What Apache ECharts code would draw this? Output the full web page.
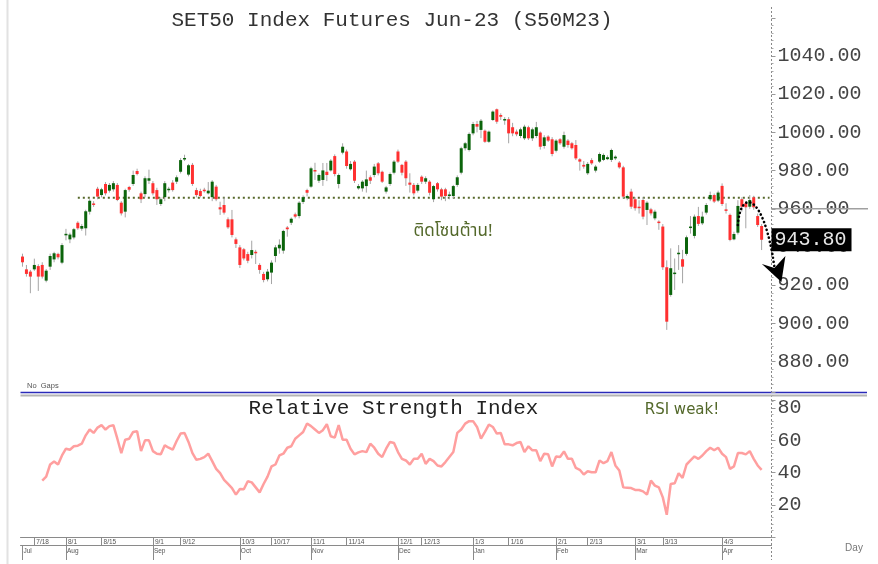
<!DOCTYPE html>
<html><head><meta charset="utf-8">
<script src="https://cdn.jsdelivr.net/npm/echarts@6/dist/echarts.min.js"></script>
<style>html,body{margin:0;padding:0;background:#fff}#c{width:878px;height:564px}</style>
</head><body><div id="c"></div>
<script>
// ---------- DATA ----------
const dates = ['7/8','7/11','7/12','7/18','7/19','7/20','7/21','7/22','7/25','7/26','7/27',
'8/1','8/2','8/3','8/4','8/5','8/8','8/9','8/10','8/11','8/15','8/16','8/17','8/18','8/19','8/22','8/23','8/24','8/25','8/26','8/29','8/30','8/31',
'9/1','9/2','9/5','9/6','9/7','9/8','9/9','9/12','9/13','9/14','9/15','9/16','9/19','9/20','9/21','9/22','9/23','9/26','9/27','9/28','9/29','9/30',
'10/3','10/4','10/5','10/6','10/7','10/10','10/11','10/12','10/17','10/18','10/19','10/20','10/21','10/25','10/26','10/27','10/28','10/31',
'11/1','11/2','11/3','11/4','11/7','11/8','11/9','11/10','11/11','11/14','11/15','11/16','11/17','11/18','11/21','11/22','11/23','11/24','11/25','11/28','11/29','11/30',
'12/1','12/2','12/6','12/7','12/8','12/9','12/13','12/14','12/15','12/16','12/19','12/20','12/21','12/22','12/23','12/26','12/27','12/28','12/29',
'1/3','1/4','1/5','1/6','1/9','1/10','1/11','1/12','1/13','1/16','1/17','1/18','1/19','1/20','1/23','1/24','1/25','1/26','1/27','1/30','1/31',
'2/1','2/2','2/3','2/6','2/7','2/8','2/9','2/10','2/13','2/14','2/15','2/16','2/17','2/20','2/21','2/22','2/23','2/24','2/27','2/28',
'3/1','3/2','3/3','3/7','3/8','3/9','3/10','3/13','3/14','3/15','3/16','3/17','3/20','3/21','3/22','3/23','3/24','3/27','3/28','3/29','3/30','3/31',
'4/3','4/4','4/5','4/7','4/10','4/11','4/12','4/18','4/19','4/20','4/21'];
const padCategories = ['', ' '];

const openP = [935,928.3,927.1,928.3,930,930.6,922.4,929.7,933.5,936.4,931.8,946.6,944,945,952.7,949.6,949.8,958.5,962.8,970.5,
967.2,973,969.5,970.2,972.5,963.2,958.5,971.4,973,979.8,968.1,967.7,974.7,973.4,969.8,962.5,966.1,970,973.7,974.2,
979.4,986,977.9,983,969.8,969.3,970,968.1,966.1,971.6,960.8,962,954.5,954.5,944,939.8,938.8,936.3,935.8,937.5,
930.6,925.9,923.1,926.6,935.3,939.3,938.1,950.2,952.7,957.1,956.2,963.6,969.8,971.6,980.3,974.7,975.1,979.4,980.1,987.6,
973,989.4,990,980.7,984.7,970.7,970.7,971.9,976.5,977.7,983.8,979.4,969,973,978.9,990,983,984.7,973.7,972.5,
969.5,976.8,974.2,974.2,965,973.4,970.2,970.2,966.7,966.7,972.5,978.9,991.7,990.8,999.5,1004.4,1001.3,1000.9,995.1,1006.5,
1012.1,1009.1,1006.5,1006.9,1002.7,1000.4,998.1,996.9,1002.7,996.9,998.1,999.9,992.9,997.8,996.4,990.4,996.4,992.5,995.7,994.3,
993.4,985.9,983,978.6,985.5,980,984.7,985.6,986,985.6,986.4,984.2,981.7,965.5,969,965,961.1,964.6,959.4,959.7,
955,953.3,950.7,929.4,914.9,925.9,936.3,933.6,936.4,950,945.8,956.2,952.4,958,965,967.2,964.3,972,959.7,956.8,
944,947.5,965,962.9,961.1,966,956.2,951];
const closeP = [932,925.9,924.5,930.6,924.5,924.5,927.6,935.3,936.7,934.6,941,946.9,946.5,949.3,949.8,951,958.7,964.2,962.2,966.4,
970.2,968.1,972.5,973.4,964.6,957.6,969.8,970,977.7,978.2,965,976,976,968.1,965,965,973.4,970.5,969.8,976.5,
985.5,986.6,982.8,973,967.2,966.7,969.5,969.5,974.2,965,959.7,958,950.3,946.3,941.6,930.6,934,932.8,938.4,936.7,
928,922.7,927.1,931.8,939.8,941.2,948.4,949.3,954.8,955.9,963.2,966.1,968.4,981.2,979.8,977.7,980.1,977.7,985.2,978.2,
977.7,992.5,982.4,983.5,974.7,971.9,974.2,975.4,974.7,982.1,978.6,974.2,971.2,978.2,984.7,984.7,978.9,976,972.6,968.1,
972.5,974.2,976,968.4,971.9,970.2,966.4,966.7,967.5,971.9,976.5,991.7,994.3,999.2,1004.4,1003,1006.1,995.1,1000.4,1010.9,
1005.6,1008.2,1007,999.5,999.5,999,1001.6,1003,996.9,1001.6,1002.7,992.5,997.4,995.7,988.7,995.7,994.3,998.6,993.4,991.7,
986.4,984.7,982.1,983.5,983.8,982.1,988.7,988.2,987,990.8,987.3,981.7,966.4,966.7,961.1,960.3,960.4,955.9,963.2,957.6,
958.5,952.8,929.4,900.9,928.9,926.6,937,929.7,945.1,950.7,955.9,952.1,955.9,962,967.2,963.8,968.5,962.5,959,943.7,
946.8,961.5,961.1,960.8,964.6,960.8,951.5,943.8];
const lowP = [929.7,924.5,915.8,927.5,917,923.5,921.5,928,932,933.5,931,943.5,942,944,949,948.5,946,957,961,965,
966,967,968.5,969,964,956.5,955.5,969,972,977.5,963,966,973,967,962,961.5,964,968.5,969,973,
978.5,985,977,972,966,966,968.5,967.5,964,964,956.8,957,949.5,945,939.5,929,933,931.5,934,931.1,
926,921.5,922,920.6,932,936.5,936.5,945.4,951.5,955,955,962.5,966.5,971,975.1,973.5,972,974.5,979.5,977,
970.7,988.5,981,980,973.5,970,969,968.5,973,976.5,977.5,973.5,968,972,978,984,977.5,972,968.5,967,
968.5,973,973,967,963.5,969,964.5,964,965,965.5,971.5,978,990.5,990,998.5,1000,997,994.5,994.5,1006,
1004.5,1006.5,1004,994.3,998,998,997,996,996,995.5,997,991,991.5,995,987.5,989.5,993.5,991.5,992,991,
985.5,980,981,977.7,983,979,984,985,985.5,984.5,985.5,981,965.5,964.5,960,959,957.5,954.5,951.5,956.5,
954,949,928,896.6,914,917.5,928,921,935.5,947,944.5,951,951.5,957,964,963,963.5,961.5,957.5,943,
943.5,946.5,958.5,949.8,960,959.5,950.5,938.4];
const highP = [936.5,930.6,928,933.9,931,932,928.5,936.5,937.5,937,942,949.5,947.5,950,953.5,952,959.5,965,964,971.5,
971,974,973.5,974.5,973.5,964,970.5,972,980,981,969,977,980.5,974.5,971,966,974.5,971.5,975,977.5,
986.5,988.3,983.5,984,971,970.5,971,974,975,972.5,963.7,966,955.5,959.4,945,941,939.5,937.5,943.3,938.5,
931.5,927,928.5,933,941,944,949,951,955.5,958,964,967,970.5,982,984.1,978.5,984,984,986,988.5,
978.5,994.3,991,985,985.5,973,975,980,977.5,983.5,984.5,980,972,979,985.5,991,983.5,985.5,978.6,973.5,
973.5,977.5,977,975,972.5,974,971,971,969,972.5,977.5,992.5,995,1000,1005.5,1006,1007,1001.5,1001,1011.5,
1012.5,1010,1008,1008,1005,1001.5,1002.5,1004,1003.5,1002.5,1005.5,1000.5,998.5,998.5,997.5,996.5,997,1000.4,996.5,995,
996,986.5,985,984.5,986.5,983,989.5,989,988,991.5,988,985,982.5,967.5,970.5,966,964.5,966,964,960.5,
959.5,954,952,933,939.3,934,941,938.5,946,956.2,957,961,958.5,963,969,968,969.5,973.3,962.9,957.5,
948,964.5,966,964,967.2,966.8,957.5,952];

const rsi = [null,null,null,null,null,
35.0,37.5,45.0,46.9,45.0,50.6,54.8,54.2,56.3,56.7,57.9,63.1,66.7,64.6,67.9,69.4,66.7,68.8,69.4,61.0,
52.1,60.4,61.0,65.2,65.6,53.3,60.0,60.0,53.3,51.7,51.3,56.9,55.4,54.2,59.6,64.2,64.6,59.0,52.1,47.9,
48.5,49.6,51.7,47.1,42.3,39.6,35.4,32.9,30.4,26.3,29.8,29.6,34.6,33.9,30.8,27.7,32.9,37.5,43.8,45.0,
50.6,51.7,55.4,56.3,61.0,63.1,65.2,70.4,68.8,66.7,64.6,66.3,70.0,62.5,61.7,69.4,60.4,60.4,54.8,51.3,
52.5,53.3,52.7,57.9,55.4,51.7,49.6,54.8,59.0,58.3,52.7,48.5,47.5,45.0,48.5,48.5,51.7,45.4,48.5,47.1,44.4,
43.8,46.5,49.6,52.7,64.6,66.7,70.4,71.9,71.9,68.3,61.0,65.2,69.8,68.3,64.2,64.6,57.5,57.5,56.9,58.3,
59.0,52.7,56.3,53.8,53.8,47.1,51.7,51.3,43.8,50.0,49.6,53.1,48.5,48.5,42.9,41.7,38.8,40.8,40.2,40.2,
47.5,45.8,47.1,52.7,44.4,41.3,30.8,30.6,30.4,29.2,29.2,28.3,26.3,35.0,31.9,30.8,24.6,13.8,32.9,33.3,
39.6,36.7,45.0,47.5,50.0,48.5,50.6,53.3,55.4,53.8,55.4,51.7,49.6,42.3,43.8,52.1,52.1,51.3,53.3,48.5,44.4,41.7];

const priceTicks = [880,900,920,940,960,980,1000,1020,1040];
const rsiTicks = [20,40,60,80];
const dayLabels = ['7/18','8/1','8/15','9/1','9/12','10/3','10/17','11/1','11/14','12/1','12/13','1/3','1/16','2/1','2/13','3/1','3/13','4/3'];
const monthStarts = ['7/8','8/1','9/1','10/3','11/1','12/1','1/3','2/1','3/1','4/3'];
const monthNames = ['Jul','Aug','Sep','Oct','Nov','Dec','Jan','Feb','Mar','Apr'];
const resistanceLevel = 965.8;
const resistanceFrom = '8/4';
const lastPrice = closeP[closeP.length - 1];
const refLevel = 960;

// ---------- CHART ----------
const categories = dates.concat(padCategories);
const candleData = dates.map((d, i) => [i, openP[i], closeP[i], lowP[i], highP[i]]);
const GL = 20.5, GR = 771.5, W = 878;
const chart = echarts.init(document.getElementById('c'), null, {renderer: 'canvas'});
const monoFont = '"Liberation Mono","Courier New",monospace';
const sansFont = '"Liberation Sans",Arial,sans-serif';

const option = {
  animation: false,
  backgroundColor: '#fff',
  grid: [
    {left: GL, right: W - GR, top: 17.8, height: 382},
    {left: GL, right: W - GR, top: 392, height: 145}
  ],
  xAxis: [
    {type: 'category', gridIndex: 0, data: categories, boundaryGap: true, show: false},
    {type: 'category', gridIndex: 1, data: categories, boundaryGap: true, position: 'bottom',
      axisLine: {show: true, lineStyle: {color: '#8a8a8a', width: 1}},
      axisTick: {show: true, alignWithLabel: true, length: 8, interval: (i, v) => dayLabels.includes(v), lineStyle: {color: '#8a8a8a'}},
      axisLabel: {show: true, interval: (i, v) => dayLabels.includes(v), align: 'left', margin: 2, padding: [0,0,0,2],
        fontSize: 6.5, fontFamily: sansFont, color: '#555'},
      splitLine: {show: false}},
    {type: 'category', gridIndex: 1, data: categories, boundaryGap: true, position: 'bottom', offset: 8,
      axisLine: {show: true, lineStyle: {color: '#8a8a8a', width: 1}},
      axisTick: {show: true, alignWithLabel: true, length: 15, interval: (i, v) => monthStarts.includes(v), lineStyle: {color: '#8a8a8a'}},
      axisLabel: {show: true, interval: (i, v) => monthStarts.includes(v), align: 'left', margin: 3, padding: [0,0,0,1],
        fontSize: 6.5, fontFamily: sansFont, color: '#555',
        formatter: v => { const k = monthStarts.indexOf(v); return k >= 0 ? monthNames[k] : ''; }},
      splitLine: {show: false}}
  ],
  yAxis: [
    {type: 'value', gridIndex: 0, position: 'right', min: 860, max: 1060, interval: 20,
      axisLine: {show: false}, splitLine: {show: false},
      axisTick: {show: true, length: 4, lineStyle: {color: '#999'}},
      minorTick: {show: true, splitNumber: 5, length: 2, lineStyle: {color: '#aaa'}},
      axisLabel: {margin: 6, fontSize: 20, fontFamily: monoFont, color: '#444',
        formatter: v => priceTicks.includes(v) ? v.toFixed(2) : ''}},
    {type: 'value', gridIndex: 1, position: 'right', min: 0, max: 90, interval: 20,
      axisLine: {show: false}, splitLine: {show: false},
      axisTick: {show: true, length: 4, lineStyle: {color: '#999'}},
      minorTick: {show: true, splitNumber: 5, length: 2, lineStyle: {color: '#aaa'}},
      axisLabel: {margin: 6, fontSize: 20, fontFamily: monoFont, color: '#444',
        formatter: v => rsiTicks.includes(v) ? String(v) : ''}}
  ],
  series: [
    {type: 'custom', xAxisIndex: 0, yAxisIndex: 0, data: candleData, encode: {x: 0, y: [1,2,3,4]}, z: 5,
      renderItem: (params, api) => {
        const i = api.value(0), o = api.value(1), c = api.value(2), l = api.value(3), h = api.value(4);
        const pO = api.coord([i, o]), pC = api.coord([i, c]), pL = api.coord([i, l]), pH = api.coord([i, h]);
        const x = pO[0];
        const top = Math.min(pO[1], pC[1]);
        const hh = Math.max(Math.abs(pO[1] - pC[1]), 1.5);
        const col = c >= o ? '#0b640b' : '#ff3030';
        return {type: 'group', children: [
          {type: 'line', shape: {x1: x, y1: pH[1], x2: x, y2: pL[1]}, style: {stroke: '#a5a5a5', lineWidth: 1}},
          {type: 'rect', shape: {x: x - 1.5, y: top, width: 3, height: hh}, style: {fill: col}}
        ]};
      }},
    {type: 'line', xAxisIndex: 1, yAxisIndex: 1, data: rsi, showSymbol: false, connectNulls: false,
      lineStyle: {color: '#ff9f9f', width: 2.5}, itemStyle: {color: '#ff9f9f'}}
  ]
};
chart.setOption(option);

// ---------- ANNOTATIONS ----------
const px = (i, v) => chart.convertToPixel({xAxisIndex: 0, yAxisIndex: 0}, [i, v]);
const iFrom = dates.indexOf(resistanceFrom);
const r1 = px(iFrom, resistanceLevel);
const r2 = px(188.7, resistanceLevel);
const yLast = px(0, lastPrice)[1];
const yRef = px(0, refLevel)[1];
const a0 = px(dates.length - 7, 951.5);   // arrow start near candle
const ax = a0[0], ay = a0[1];

chart.setOption({
  graphic: [
    {type: 'line', shape: {x1: 7.5, y1: 0, x2: 7.5, y2: 564}, style: {stroke: '#e2e2e2', lineWidth: 2}, silent: true},
    {type: 'line', shape: {x1: GR, y1: 7, x2: GR, y2: 560}, style: {stroke: '#888', lineWidth: 1, lineDash: [2, 2]}, silent: true},
    {type: 'line', shape: {x1: GL, y1: 392.5, x2: 867, y2: 392.5}, style: {stroke: '#2a2ab8', lineWidth: 1.3}, silent: true},
    {type: 'line', shape: {x1: GL, y1: 395.5, x2: 867, y2: 395.5}, style: {stroke: '#b4b4b4', lineWidth: 2}, silent: true},
    {type: 'line', shape: {x1: r1[0], y1: r1[1], x2: r2[0], y2: r2[1]}, style: {stroke: '#56682a', lineWidth: 2, lineDash: [2, 3]}, z: 3, silent: true},
    {type: 'line', shape: {x1: GR, y1: yRef, x2: 868, y2: yRef}, style: {stroke: '#a0a0a0', lineWidth: 1.5}, z: 1, silent: true},
    {type: 'text', x: 392, y: 20, style: {text: 'SET50 Index Futures Jun-23 (S50M23)', fontSize: 21, fontFamily: monoFont, fill: '#333', align: 'center', verticalAlign: 'middle'}},
    {type: 'text', x: 393.5, y: 408, style: {text: 'Relative Strength Index', fontSize: 21, fontFamily: monoFont, fill: '#222', align: 'center', verticalAlign: 'middle'}},
    {type: 'text', x: 453, y: 233, style: {text: 'ติดโซนต้าน!', fontSize: 17, fontFamily: '"Noto Sans Thai","Noto Sans",Tahoma,sans-serif', fill: '#53682a', align: 'center', verticalAlign: 'middle'}},
    {type: 'text', x: 682, y: 410, style: {text: 'RSI weak!', fontSize: 15, fontFamily: '"DejaVu Sans",Verdana,sans-serif', fill: '#53682a', align: 'center', verticalAlign: 'middle'}},
    {type: 'text', x: 27, y: 386, style: {text: 'No  Gaps', fontSize: 7.5, fontFamily: sansFont, fill: '#555', align: 'left', verticalAlign: 'middle'}},
    {type: 'text', x: 854, y: 548, style: {text: 'Day', fontSize: 10, fontFamily: sansFont, fill: '#777', align: 'center', verticalAlign: 'middle'}},
    {type: 'text', x: GR, y: yLast, z: 20, style: {text: lastPrice.toFixed(2), fontSize: 20, fontFamily: monoFont, fill: '#e6e6e6',
      backgroundColor: '#000', padding: [2, 5, 1, 3], align: 'left', verticalAlign: 'middle'}},
    {type: 'bezierCurve', z: 15, shape: {x1: ax, y1: ay, cpx1: ax + 2.5, cpy1: ay - 37, cpx2: ax + 26, cpy2: ay - 33, x2: ax + 36.5, y2: ay + 42},
      style: {stroke: '#000', lineWidth: 2.6, lineDash: [0.1, 4], lineCap: 'round', fill: null}},
    {type: 'polygon', z: 16, shape: {points: [[ax + 24, ay + 39], [ax + 36.5, ay + 43], [ax + 47.5, ay + 31], [ax + 43.5, ay + 57]]},
      style: {fill: '#000'}}
  ]
});
</script>
</body></html>
